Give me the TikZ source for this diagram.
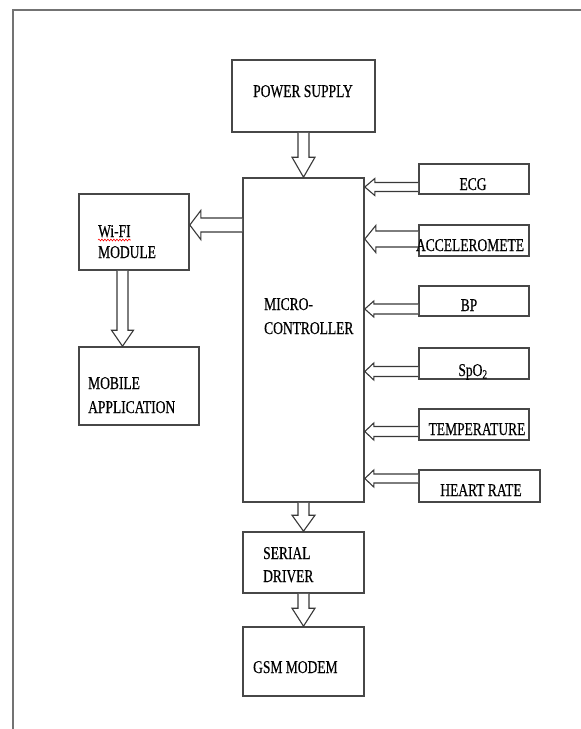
\documentclass[tikz,border=0pt]{standalone}
\usepackage{fontspec}
\setmainfont[FakeStretch=0.75,FakeBold=0.4]{Liberation Serif}
\usetikzlibrary{calc,decorations.pathmorphing}
\tikzset{
  box/.style={draw=black!72, line width=1.6pt, rectangle, inner sep=0pt, fill=white},
  blk/.style={draw=black!78, line width=1.1pt, fill=white, line join=miter},
  lbl/.style={inner sep=0pt, font=\fontsize{18}{21}\selectfont, text=black},
  frame/.style={draw=black!55, line width=2pt},
}
\newcommand{\vblk}[5]{\draw[blk] let \p1=(#1), \p2=(#2) in (\x1-#3,\y1) -- (\x1-#3,\y2+#5) -- (\x1-#4,\y2+#5) -- (\x1,\y2) -- (\x1+#4,\y2+#5) -- (\x1+#3,\y2+#5) -- (\x1+#3,\y1);}
\newcommand{\hblk}[5]{\draw[blk] let \p1=(#1), \p2=(#2) in (\x1,\y1+#3) -- (\x2+#5,\y1+#3) -- (\x2+#5,\y1+#4) -- (\x2,\y1) -- (\x2+#5,\y1-#4) -- (\x2+#5,\y1-#3) -- (\x1,\y1-#3);}
\begin{document}
\begin{tikzpicture}[x=1pt,y=-1pt]
\useasboundingbox[fill=white] (0,0) rectangle (581,729);
\draw[frame] (581,10) -- (13,10) -- (13,729);

% boxes
\node[box, minimum width=143pt, minimum height=72pt] (ps) at (303.5,96) {};
\node[box, minimum width=121pt, minimum height=324pt] (mc) at (303.5,340) {};
\node[box, minimum width=110pt, minimum height=76pt] (wifi) at (134,232) {};
\node[box, minimum width=120pt, minimum height=78pt] (mob) at (139,386) {};
\node[box, minimum width=110pt, minimum height=30pt] (ecg) at (474,179) {};
\node[box, minimum width=110pt, minimum height=31pt] (acc) at (474,240.5) {};
\node[box, minimum width=110pt, minimum height=30pt] (bp) at (474,301) {};
\node[box, minimum width=110pt, minimum height=31pt] (spo) at (474,363.5) {};
\node[box, minimum width=110pt, minimum height=31pt] (tmp) at (474,424.5) {};
\node[box, minimum width=121pt, minimum height=32pt] (hr) at (479.5,486) {};
\node[box, minimum width=121pt, minimum height=61pt] (ser) at (303.5,562.5) {};
\node[box, minimum width=121pt, minimum height=69pt] (gsm) at (303.5,661.5) {};

% labels
\node[lbl, anchor=base] (pst) at (303,97) {POWER SUPPLY};
\node[lbl, anchor=base west] (mct1) at (264,310) {MICRO-};
\node[lbl, anchor=base west] (mct2) at (264,334) {CONTROLLER};
\node[lbl, anchor=base west] (wft1) at (98,237) {Wi-FI};
\node[lbl, anchor=base west] (wft2) at (98,258) {MODULE};
\node[lbl, anchor=base west] (mbt1) at (88,389) {MOBILE};
\node[lbl, anchor=base west] (mbt2) at (88,413) {APPLICATION};
\node[lbl, anchor=base west] (srt1) at (263,559) {SERIAL};
\node[lbl, anchor=base west] (srt2) at (263,582) {DRIVER};
\node[lbl, anchor=base west] (gst) at (253,673) {GSM MODEM};
\node[lbl, anchor=base] (ecgt) at (473,190) {ECG};
\node[lbl, anchor=base] (acct) at (470,251) {ACCELEROMETE};
\node[lbl, anchor=base] (bpt) at (469,311) {BP};
\node[lbl, anchor=base] (spot) at (473,376) {SpO\textsubscript{2}};
\node[lbl, anchor=base] (tmpt) at (477,435) {TEMPERATURE};
\node[lbl, anchor=base] (hrt) at (481,496) {HEART RATE};
\draw[red, line width=0.6pt, decorate, decoration={snake, amplitude=0.9pt, segment length=3pt}]
  ([yshift=-3pt]wft1.base west) -- ([yshift=-3pt]wft1.base east);

% connectors
\vblk{ps.south}{mc.north}{5.5pt}{11.5pt}{20pt}
\vblk{mc.south}{ser.north}{5.5pt}{11.5pt}{16pt}
\vblk{ser.south}{gsm.north}{5.5pt}{11.5pt}{18pt}
\coordinate (wa) at ($(wifi.south)+(-11.5,0)$);
\vblk{wa}{wa |- mob.north}{5.5pt}{11pt}{16pt}
\coordinate (wm) at ($(mc.west |- wifi.east)+(0,-7)$);
\hblk{wm}{wifi.east |- wm}{7pt}{14.5pt}{11pt}
\coordinate (e1) at ($(ecg.west)+(0,8)$);
\hblk{e1}{mc.east |- e1}{4.5pt}{8.5pt}{10pt}
\coordinate (e2) at ($(acc.west)+(0,-1.5)$);
\hblk{e2}{mc.east |- e2}{8pt}{13.5pt}{11pt}
\coordinate (e3) at ($(bp.west)+(0,8)$);
\hblk{e3}{mc.east |- e3}{5pt}{8pt}{9pt}
\coordinate (e4) at ($(spo.west)+(0,8)$);
\hblk{e4}{mc.east |- e4}{5pt}{8.5pt}{9pt}
\coordinate (e5) at ($(tmp.west)+(0,7)$);
\hblk{e5}{mc.east |- e5}{5pt}{8.5pt}{9pt}
\coordinate (e6) at ($(hr.west)+(0,-7.5)$);
\hblk{e6}{mc.east |- e6}{4.5pt}{8.5pt}{9pt}
\end{tikzpicture}
\end{document}
